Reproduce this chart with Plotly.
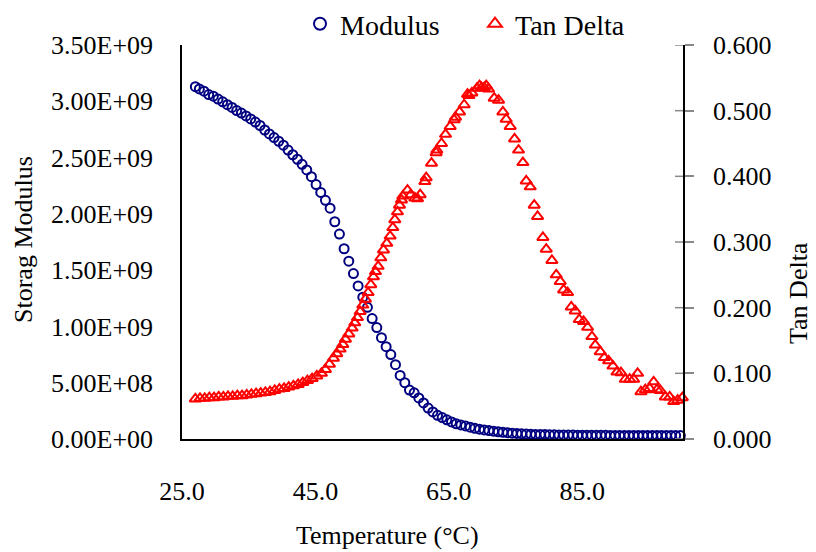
import plotly.graph_objects as go

# ---------------- data ----------------
mod_temp = [27.0, 27.6, 28.3, 29.0, 29.7, 30.4, 31.1, 31.8, 32.5, 33.2, 33.9, 34.6, 35.3, 36.0,
            36.7, 37.4, 38.1, 38.8, 39.5, 40.2, 40.9, 41.6, 42.3, 43.0, 43.7, 44.4, 45.1, 45.8,
            46.5, 47.2, 47.9, 48.6, 49.3, 50.0, 50.7, 51.4, 52.1, 52.8, 53.5, 54.2, 54.9, 55.6,
            56.3, 57.0, 57.7, 58.4, 59.1, 59.8, 60.5, 61.2, 61.9, 62.6, 63.3, 64.0, 64.7, 65.4,
            66.1, 66.8, 67.5, 68.2, 68.9, 69.6, 70.3, 71.0, 71.7, 72.4, 73.1, 73.8, 74.5, 75.2,
            75.9, 76.6, 77.3, 78.0, 78.7, 79.4, 80.1, 80.8, 81.5, 82.2, 82.9, 83.6, 84.3, 85.0,
            85.7, 86.4, 87.1, 87.8, 88.5, 89.2, 89.9, 90.6, 91.3, 92.0, 92.7, 93.4, 94.1, 94.8,
            95.5, 96.2, 96.9, 97.6, 98.3, 99.0, 99.7]
mod_vals_e9 = [3.13, 3.11, 3.09, 3.06, 3.045, 3.02, 2.995, 2.97, 2.945, 2.918, 2.895, 2.870, 2.843, 2.815,
               2.785, 2.745, 2.71, 2.678, 2.645, 2.61, 2.567, 2.525, 2.485, 2.44, 2.39, 2.33, 2.26, 2.19,
               2.12, 2.05, 1.93, 1.82, 1.69, 1.58, 1.47, 1.36, 1.26, 1.17, 1.07, 0.99, 0.90, 0.82,
               0.75, 0.66, 0.565, 0.50, 0.435, 0.41, 0.365, 0.32, 0.275, 0.24, 0.21, 0.19, 0.17, 0.152,
               0.135, 0.125, 0.116, 0.105, 0.095, 0.087, 0.081, 0.075, 0.069, 0.064, 0.06, 0.056, 0.052, 0.049,
               0.047, 0.044, 0.042, 0.041, 0.040, 0.039, 0.038, 0.037, 0.036, 0.036, 0.035, 0.035, 0.034, 0.034,
               0.034, 0.033, 0.033, 0.033, 0.033, 0.032, 0.032, 0.032, 0.032, 0.032, 0.031, 0.031, 0.031, 0.031,
               0.031, 0.031, 0.030, 0.030, 0.030, 0.030, 0.030]
modulus = [v * 1e9 for v in mod_vals_e9]

tan_temp = [27.0, 27.7, 28.4, 29.1, 29.8, 30.5, 31.2, 31.9, 32.6, 33.3, 34.0, 34.7, 35.4, 36.1,
            36.8, 37.5, 38.2, 38.9, 39.6, 40.3, 41.0, 41.7, 42.4, 43.1, 43.8, 44.5, 45.2, 45.9,
            46.5, 47.1, 47.7, 48.2, 48.7, 49.1, 49.5, 50.0, 50.5, 50.9, 51.3, 51.7, 52.1, 52.5,
            52.9, 53.3, 53.7, 54.0, 54.4, 54.8, 55.2, 55.7, 56.2, 56.6, 56.9, 57.3, 57.6, 57.9,
            58.1, 58.8, 59.3, 59.9, 60.3, 60.7, 61.4, 61.6, 62.4, 63.1, 63.2, 63.9, 64.5, 65.2,
            65.8, 66.0, 66.6, 67.3, 67.8, 68.0, 68.45, 69.2, 69.6, 69.9, 70.3, 70.6, 70.95, 71.8,
            72.45, 73.1, 73.6, 74.2, 74.85, 75.45, 76.1, 76.6, 77.2, 77.8, 78.3, 79.1, 79.6, 80.45,
            81.1, 81.7, 82.2, 82.8, 83.35, 83.95, 84.55, 85.2, 85.8, 86.45, 86.95, 87.7, 88.3, 88.95,
            89.6, 90.2, 90.8, 91.45, 92.1, 92.7, 93.3, 93.8, 94.45, 95.1, 95.7, 96.2, 96.7, 97.45,
            98.1, 98.7, 99.3, 100.0]
tan_delta = [0.061, 0.062, 0.062, 0.063, 0.063, 0.064, 0.064, 0.065, 0.065, 0.066, 0.066, 0.067, 0.068, 0.069,
             0.070, 0.071, 0.072, 0.074, 0.076, 0.077, 0.079, 0.081, 0.083, 0.086, 0.089, 0.092, 0.096, 0.100,
             0.106, 0.114, 0.123, 0.130, 0.137, 0.144, 0.152, 0.160, 0.169, 0.177, 0.185, 0.194, 0.204, 0.213,
             0.223, 0.235, 0.247, 0.255, 0.263, 0.276, 0.288, 0.298, 0.309, 0.322, 0.334, 0.346, 0.356, 0.364,
             0.370, 0.379, 0.372, 0.367, 0.366, 0.372, 0.392, 0.398, 0.420, 0.436, 0.440, 0.450, 0.464, 0.476,
             0.486, 0.490, 0.498, 0.509, 0.525, 0.523, 0.527, 0.534, 0.538, 0.535, 0.535, 0.538, 0.533, 0.519,
             0.516, 0.498, 0.487, 0.476, 0.457, 0.440, 0.421, 0.393, 0.384, 0.356, 0.339, 0.307, 0.289, 0.272,
             0.250, 0.240, 0.227, 0.223, 0.201, 0.195, 0.182, 0.179, 0.170, 0.156, 0.143, 0.133, 0.124, 0.119,
             0.111, 0.102, 0.101, 0.091, 0.091, 0.091, 0.100, 0.072, 0.075, 0.077, 0.087, 0.075, 0.074, 0.064,
             0.064, 0.057, 0.059, 0.063]

x_ticks = [25, 45, 65, 85]
x_ticktext = ["25.0", "45.0", "65.0", "85.0"]
left_ticks = [0, 0.5e9, 1.0e9, 1.5e9, 2.0e9, 2.5e9, 3.0e9, 3.5e9]
left_ticktext = ["0.00E+00", "5.00E+08", "1.00E+09", "1.50E+09", "2.00E+09", "2.50E+09", "3.00E+09", "3.50E+09"]
right_ticks = [0, 0.1, 0.2, 0.3, 0.4, 0.5, 0.6]
right_ticktext = ["0.000", "0.100", "0.200", "0.300", "0.400", "0.500", "0.600"]

FONT = "Liberation Serif, Times New Roman, serif"
OFF = 8                      # default page body margin in the browser
VW, VH = 816, 552            # viewport
W, H = VW - OFF, VH - OFF    # figure size
PL, PR, PT, PB = 182, 683, 45, 439   # plot area in viewport pixels
ML, MR, MT, MB = PL - OFF, VW - PR, PT - OFF, VH - PB
pw, ph = PR - PL, PB - PT


def px_x(x):
    return (x - PL) / pw


def px_y(y):
    return (PB - y) / ph


fig = go.Figure()
fig.add_trace(go.Scatter(
    x=mod_temp, y=modulus, name="Modulus", mode="markers", cliponaxis=False,
    marker=dict(symbol="circle-open", size=9, color="#000080", line=dict(width=2, color="#000080")),
))
fig.add_trace(go.Scatter(
    x=tan_temp, y=tan_delta, name="Tan Delta", mode="markers", yaxis="y2", cliponaxis=False,
    marker=dict(symbol="triangle-up-open", size=10, color="#ff0000", line=dict(width=2, color="#ff0000")),
))

# inner half of the cross-style ticks on the right axis
tick_shapes = [dict(type="line", xref="paper", yref="y2", x0=1 - 8 / pw, x1=1, y0=v, y1=v,
                    line=dict(color="#888888", width=1.5)) for v in right_ticks]

fig.update_layout(
    width=W, height=H,
    paper_bgcolor="white", plot_bgcolor="white",
    margin=dict(l=ML, r=MR, t=MT, b=MB, autoexpand=False),
    font=dict(family=FONT, size=26, color="black"),
    showlegend=True,
    legend=dict(orientation="h", x=px_x(300), y=px_y(24), xref="paper", yref="paper",
                xanchor="left", yanchor="middle", font=dict(size=28), itemsizing="constant",
                bgcolor="rgba(0,0,0,0)", itemwidth=30, entrywidth=130, tracegroupgap=0),
    xaxis=dict(range=[25, 100.1], tickvals=x_ticks, ticktext=x_ticktext, showgrid=False, zeroline=False,
               showline=True, linecolor="black", linewidth=1.5, ticks="outside", ticklen=28,
               tickcolor="rgba(0,0,0,0)", tickfont=dict(size=26)),
    yaxis=dict(range=[0, 3.5e9], tickvals=left_ticks, ticktext=left_ticktext, showgrid=False, zeroline=False,
               showline=True, linecolor="black", linewidth=1.5, ticks="outside", ticklen=22,
               tickcolor="rgba(0,0,0,0)", tickfont=dict(size=26)),
    yaxis2=dict(range=[0, 0.6], tickvals=right_ticks, ticktext=right_ticktext, overlaying="y", side="right",
                anchor="x", showgrid=False, zeroline=False, showline=True, linecolor="black", linewidth=1.5,
                ticks="outside", ticklen=9, tickcolor="#888888", tickwidth=1.5,
                ticklabelstandoff=14, tickfont=dict(size=26)),
    shapes=tick_shapes,
    annotations=[
        dict(text="Storag Modulus", x=px_x(23), y=px_y(240), xref="paper", yref="paper", showarrow=False,
             textangle=-90, font=dict(size=26), xanchor="center", yanchor="middle"),
        dict(text="Tan Delta", x=px_x(798), y=px_y(293), xref="paper", yref="paper", showarrow=False,
             textangle=-90, font=dict(size=26), xanchor="center", yanchor="middle"),
        dict(text="Temperature (°C)", x=px_x(387), y=px_y(535), xref="paper", yref="paper", showarrow=False,
             font=dict(size=26), xanchor="center", yanchor="middle"),
    ],
)

fig.write_html("out.html")
